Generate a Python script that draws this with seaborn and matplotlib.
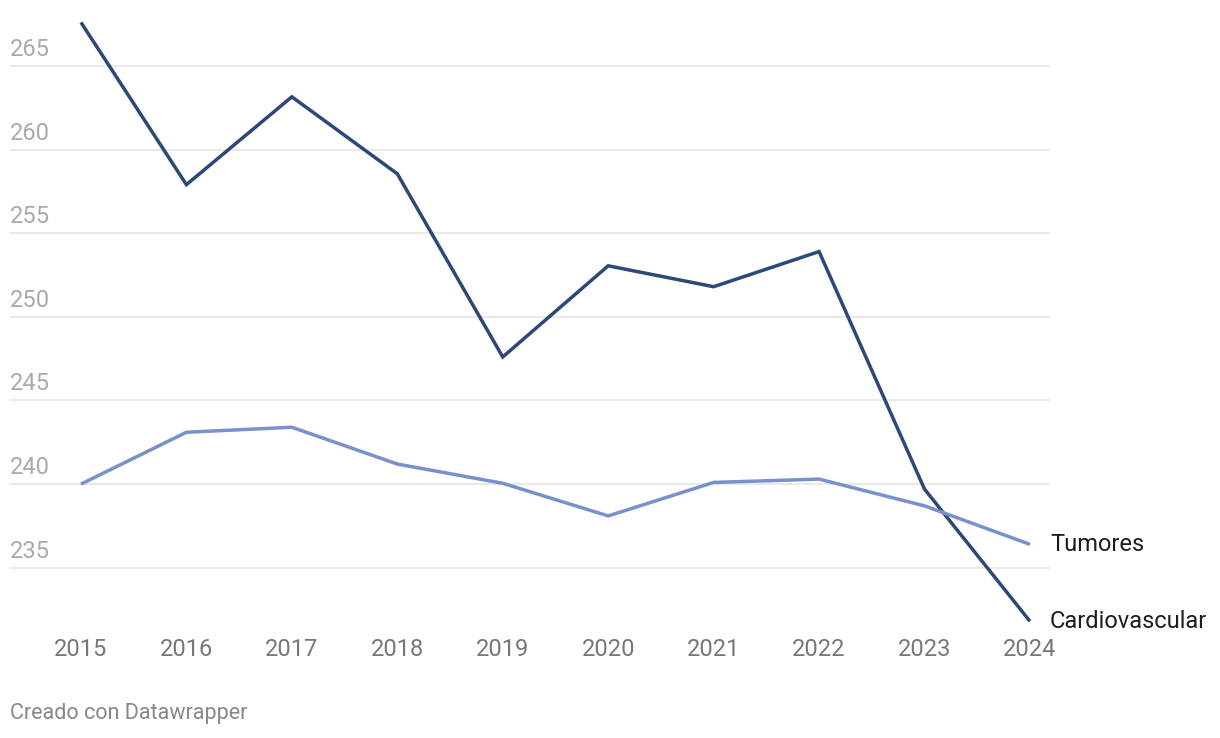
import pandas as pd
import numpy as np
import matplotlib
matplotlib.use("Agg")
import matplotlib.pyplot as plt
import matplotlib.transforms as mtransforms
import seaborn as sns

years = [2015, 2016, 2017, 2018, 2019, 2020, 2021, 2022, 2023, 2024]
cardiovascular = [267.6, 257.9, 263.15, 258.55, 247.6, 253.05, 251.8, 253.9, 239.7, 231.8]
tumores = [240.0, 243.1, 243.4, 241.2, 240.05, 238.1, 240.1, 240.3, 238.7, 236.4]
y_ticks = [235, 240, 245, 250, 255, 260, 265]
series_names = ["Cardiovascular", "Tumores"]
colors = {"Cardiovascular": "#2c4778", "Tumores": "#7890cb"}

df = pd.DataFrame({
    "year": years * 2,
    "value": cardiovascular + tumores,
    "serie": ["Cardiovascular"] * len(years) + ["Tumores"] * len(years),
})

sns.set_style("white")
plt.rcParams['font.family'] = ['Roboto', 'DejaVu Sans']

fig = plt.figure(figsize=(12.2, 7.38), dpi=100)
W, H = 1220, 738
ax = fig.add_axes([10 / W, 1 - 630 / H, 1040 / W, 620 / H])

# gridlines
for t in y_ticks:
    ax.axhline(t, color="#e3e3e3", lw=1.1, zorder=0)

sns.lineplot(data=df, x="year", y="value", hue="serie", palette=colors,
             hue_order=series_names, linewidth=2.5, legend=False, ax=ax,
             solid_joinstyle="miter", solid_capstyle="butt")

ax.set_xlim(2014.327, 2024.19)
ax.set_ylim(231.28, 268.34)
for s in ax.spines.values():
    s.set_visible(False)

ax.set_xticks(years)
ax.set_xticklabels([str(y) for y in years], fontsize=17, color="#777777")
ax.tick_params(axis="x", length=0, pad=6)
ax.set_yticks([])
ax.set_xlabel("")
ax.set_ylabel("")

# y labels above gridlines
trans = mtransforms.blended_transform_factory(ax.transAxes, ax.transData)
for t in y_ticks:
    ax.text(0, t + 0.3, str(t), transform=trans, ha="left", va="bottom",
            fontsize=17, color="#aaaaaa")

# series labels at line ends
ax.text(2024.19, tumores[-1], "Tumores", ha="left", va="center",
        fontsize=17, color="#1d1d1d")
ax.text(2024.19, cardiovascular[-1], "Cardiovascular", ha="left", va="center",
        fontsize=17, color="#1d1d1d")

fig.text(10 / W, 1 - 714 / H, "Creado con Datawrapper", ha="left", va="center",
         fontsize=15.5, color="#888888")

fig.savefig("out.png", dpi=100)
